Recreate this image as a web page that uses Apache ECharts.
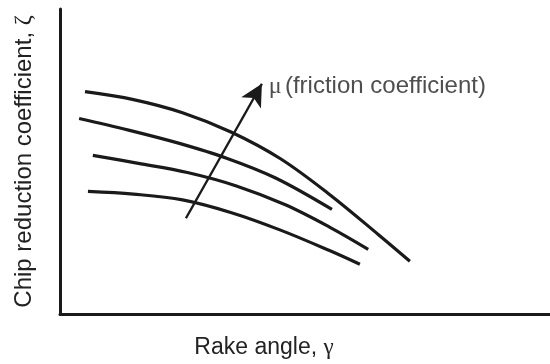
<!DOCTYPE html>
<html lang="en">
<head>
    <meta charset="UTF-8">
    <script src="https://cdn.jsdelivr.net/npm/echarts@6/dist/echarts.min.js"></script>
    <style>
        * {
            margin: 0;
            padding: 0;
        }
        #chart {
            width: 550px;
            height: 364px;
            background: #fff;
        }
    </style>
</head>
<body>
<div id="chart"></div>

<script>
    // curves, lowest friction first (rake angle, chip reduction coefficient)
    const curveLow = [[5.7, 40.2], [15, 39.3], [25, 37.4], [35, 33.2], [45, 27.5], [55, 20.8], [61.2, 16.3]]
    const curveMidLow = [[6.7, 52.0], [16, 49.4], [26, 46.4], [36, 42.0], [46, 35.8], [55, 28.5], [62.9, 21.2]]
    const curveMidHigh = [[3.9, 64.1], [14, 60.3], [24, 56.1], [34, 51.1], [44, 44.6], [55.5, 34.3]]
    const curveHigh = [[5.1, 72.9], [15, 70.3], [25, 66.0], [35, 59.6], [45, 50.9], [55, 39.2], [65, 26.0], [71.4, 17.3]]
    const curves = [curveLow, curveMidLow, curveMidHigh, curveHigh]

    // arrow showing increasing friction coefficient
    const arrowFrom = [25.7, 31.4]
    const arrowTo = [41.2, 75.5]
    const arrowLabelAt = [42.6, 74.5]

    const ink = '#1a1a1a'
    const sans = '"Liberation Sans", Arial, sans-serif'
    const serif = '"Liberation Serif", "Times New Roman", serif'

    const myChart = echarts.init(document.getElementById('chart'))

    const option = {
        animation: false,
        grid: {left: 60, right: 0, top: 9, bottom: 49},
        xAxis: {
            type: 'value',
            min: 0,
            max: 100,
            name: '{t|Rake angle, }{g|γ}',
            nameLocation: 'middle',
            nameGap: 22,
            nameTextStyle: {
                padding: [0, 82, 0, 0],
                rich: {
                    t: {fontFamily: sans, fontSize: 23, color: '#222'},
                    g: {fontFamily: serif, fontSize: 23, color: '#222'}
                }
            },
            axisLine: {lineStyle: {color: ink, width: 3}},
            axisTick: {show: false},
            axisLabel: {show: false},
            splitLine: {show: false}
        },
        yAxis: {
            type: 'value',
            min: 0,
            max: 100,
            name: '{t|Chip reduction coefficient, }{g|ζ}',
            nameLocation: 'middle',
            nameGap: 24,
            nameTextStyle: {
                rich: {
                    t: {fontFamily: sans, fontSize: 24, color: '#222'},
                    g: {fontFamily: serif, fontSize: 24, color: '#222'}
                }
            },
            axisLine: {show: true, lineStyle: {color: ink, width: 3}},
            axisTick: {show: false},
            axisLabel: {show: false},
            splitLine: {show: false}
        },
        series: [
            ...curves.map(c => ({
                type: 'line',
                data: c,
                smooth: 0.35,
                symbol: 'none',
                lineStyle: {color: ink, width: 3.2},
                silent: true
            })),
            {
                type: 'line',
                data: [],
                silent: true,
                markLine: {
                    silent: true,
                    symbol: ['none', 'arrow'],
                    symbolSize: [17, 22],
                    label: {show: false},
                    lineStyle: {color: ink, width: 2.4, type: 'solid'},
                    data: [[{coord: arrowFrom}, {coord: arrowTo}]]
                }
            },
            {
                type: 'scatter',
                data: [arrowLabelAt],
                symbolSize: 0,
                silent: true,
                label: {
                    show: true,
                    position: 'right',
                    distance: 0,
                    formatter: '{g|μ} {t|(friction coefficient)}',
                    rich: {
                        t: {fontFamily: sans, fontSize: 24, color: '#222'},
                        g: {fontFamily: serif, fontSize: 24, color: '#222'}
                    }
                }
            }
        ]
    }

    myChart.setOption(option)
</script>
</body>
</html>
